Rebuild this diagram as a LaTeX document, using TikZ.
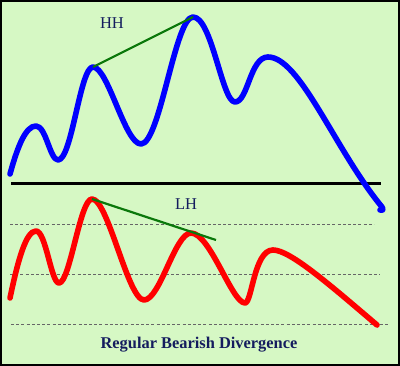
\documentclass[tikz,border=0pt]{standalone}
\usepackage{fontspec}
\setmainfont{Liberation Serif}
\usetikzlibrary{positioning}
\definecolor{DVBack}{RGB}{214,248,196}
\definecolor{DVNavy}{HTML}{141C5E}
\definecolor{DVGreen}{HTML}{0B780B}
\definecolor{DVDash}{HTML}{666666}

\begin{document}
\begin{tikzpicture}[x=1pt,y=-1pt,
        price/.style={line width=5.6pt,line cap=round,line join=round},
        trend/.style={line width=2.2pt,DVGreen},
        level/.style={DVDash,line width=.8pt,dash pattern=on 3pt off 2.2pt},
        lbl/.style={text=DVNavy,font=\fontsize{16.5}{16.5}\selectfont,inner sep=0pt}
      ]
        \useasboundingbox (0,0) rectangle (400,366);
        \fill[DVBack] (0,0) rectangle (400,366);
        % peaks used by the trend lines
        \coordinate (hh1) at (93,67);
        \coordinate (hh2) at (193,17);
        \coordinate (lh1) at (92,199);
        \coordinate (lh2) at (191,233);
        \coordinate (lhend) at (216,240);
        % levels of the oscillator
        \coordinate (lvA) at (10,224.5);  \coordinate (lvAe) at (374,224.5);
        \coordinate (lvB) at (10,274.7);  \coordinate (lvBe) at (380,274.7);
        \coordinate (lvC) at (11,324);    \coordinate (lvCe) at (390,324);
        \coordinate (base) at (11,183.6); \coordinate (basee) at (381,183.6);
        \draw[level] (lvA)--(lvAe);
        \draw[level] (lvB)--(lvBe);
        \draw[level] (lvC)--(lvCe);
        \draw[line width=2.3pt] (base)--(basee);
        % price
        \draw[price,blue] (10,174) .. controls (18,145) and (26,126) .. (36,126)
          .. controls (46,126) and (50,160) .. (58,160)
          .. controls (72,160) and (80,67) .. (hh1)
          .. controls (108,67) and (125,144) .. (141,144)
          .. controls (160,144) and (175,17) .. (hh2)
          .. controls (212,17) and (222,102) .. (235,102)
          .. controls (248,102) and (250,57) .. (268,57)
          .. controls (300,57) and (335,150) .. (382,207)
          .. controls (384,210) and (382,211) .. (380,210);
        % oscillator
        \draw[price,red] (10,298) .. controls (18,260) and (26,231) .. (36,231)
          .. controls (46,231) and (51,283) .. (59,283)
          .. controls (70,283) and (80,199) .. (lh1)
          .. controls (108,199) and (128,300) .. (144,300)
          .. controls (160,300) and (175,233) .. (lh2)
          .. controls (210,233) and (232,303) .. (245,303)
          .. controls (252,303) and (254,250) .. (273,250)
          .. controls (290,250) and (330,285) .. (377,325);
        \draw[trend] (hh1)--(hh2);
        \draw[trend] (lh1)--(lhend);
        \node[lbl] (hhlbl) at (112,23) {HH};
        \node[lbl] (lhlbl) at (186,204) {LH};
        \node[lbl,font=\fontsize{16.4}{16.4}\selectfont\bfseries] (title) at (199,345) {Regular Bearish Divergence};
        \draw[line width=2.2pt] (1.1,1.1) rectangle (398.9,364.9);
      \end{tikzpicture}
\end{document}
